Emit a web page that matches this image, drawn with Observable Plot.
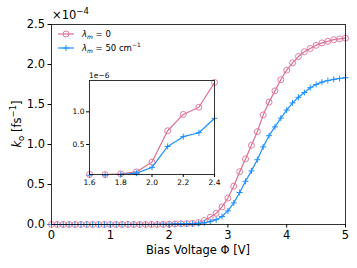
<!DOCTYPE html>
<html>
<head>
<meta charset="utf-8">
<script src="https://cdn.jsdelivr.net/npm/d3@7"></script>
<script src="https://cdn.jsdelivr.net/npm/@observablehq/plot@0.6"></script>
<style>
  html, body { margin: 0; padding: 0; background: white; }
  #wrap { position: relative; width: 357px; height: 268px; }
  #wrap svg { position: absolute; left: 0; top: 0; }
</style>
</head>
<body>
<div id="wrap"></div>
<script>
// Bias voltage (V)
const bias = [0.0,0.1,0.2,0.3,0.4,0.5,0.6,0.7,0.8,0.9,1.0,1.1,1.2,1.3,1.4,1.5,1.6,1.7,1.8,1.9,2.0,2.1,2.2,2.3,2.4,2.5,2.6,2.7,2.8,2.9,3.0,3.1,3.2,3.3,3.4,3.5,3.6,3.7,3.8,3.9,4.0,4.1,4.2,4.3,4.4,4.5,4.6,4.7,4.8,4.9,5.0];
// k0 in units of 1e-6 fs^-1, lambda_m = 0
const k0_lam0 = [0.02,0.02,0.02,0.02,0.02,0.02,0.02,0.02,0.03,0.03,0.03,0.03,0.03,0.03,0.04,0.04,
  0.04,0.04,0.05,0.08,0.23,0.71,0.96,1.07,1.45,
  2.5,5,9,14,22,33,48,66,82,99,116,137,153,167,181,193,202,210,216,220,224,227,229,231,232,233];
// k0 in units of 1e-6 fs^-1, lambda_m = 50 cm^-1
const k0_lam50 = [0.01,0.01,0.01,0.01,0.01,0.01,0.01,0.01,0.02,0.02,0.02,0.02,0.02,0.02,0.03,0.03,
  0.03,0.03,0.04,0.06,0.15,0.47,0.62,0.68,0.90,
  1.3,2.2,3.6,6,10,17,27,40,54,67,81,97,111,122,133,143,152,159,165,171,175,178,180,181.5,182.5,183.5];
const seriesNames = ["lam0", "lam50"];
const colors = {lam0: "#db7093", lam50: "#1e90ff"};
const xTicksMain = [0,1,2,3,4,5];
const yTicksMain = [0,0.5,1.0,1.5,2.0,2.5];
const xTicksInset = [1.6,1.8,2.0,2.2,2.4];
const yTicksInset = [0.5,1.0];
const xLabel = "Bias Voltage Φ [V]";

const rows = [];
bias.forEach((b, i) => {
  rows.push({x: b, v: k0_lam0[i], s: "lam0"});
  rows.push({x: b, v: k0_lam50[i], s: "lam50"});
});
const r0 = rows.filter(d => d.s === "lam0");
const r50 = rows.filter(d => d.s === "lam50");

const plus = {
  draw(ctx, size) {
    const r = Math.sqrt(size / Math.PI);
    ctx.moveTo(-r, 0); ctx.lineTo(r, 0);
    ctx.moveTo(0, -r); ctx.lineTo(0, r);
  }
};

const font = "DejaVu Sans, sans-serif";
const FS = 11.5;

const main = Plot.plot({
  width: 357, height: 268,
  marginLeft: 51, marginRight: 12, marginTop: 24, marginBottom: 44,
  style: {fontFamily: font, fontSize: FS + "px", background: "white", color: "black"},
  x: {domain: [0, 5]},
  y: {domain: [0, 2.5]},
  marks: [
    Plot.axisX({ticks: xTicksMain, tickSize: 3.5, tickPadding: 2.5, tickFormat: d3.format("d"), label: null, fontSize: FS}),
    Plot.axisY({ticks: yTicksMain, tickSize: 3.5, tickPadding: 3, tickFormat: d3.format(".1f"), label: null, fontSize: FS}),
    Plot.line(r0, {x: "x", y: d => d.v / 100, stroke: colors.lam0, strokeWidth: 1.2}),
    Plot.dot(r0, {x: "x", y: d => d.v / 100, stroke: colors.lam0, fill: "none", r: 3, strokeWidth: 0.9}),
    Plot.line(r50, {x: "x", y: d => d.v / 100, stroke: colors.lam50, strokeWidth: 1.2}),
    Plot.dot(r50, {x: "x", y: d => d.v / 100, stroke: colors.lam50, fill: "none", r: 3, symbol: plus, strokeWidth: 1}),
    Plot.frame({stroke: "black", strokeWidth: 0.8})
  ]
});

const inset = Plot.plot({
  width: 357, height: 268,
  marginLeft: 89, marginRight: 143, marginTop: 80, marginBottom: 94,
  style: {fontFamily: font, fontSize: "7.5px", background: "transparent", color: "black"},
  x: {domain: [1.6, 2.4]},
  y: {domain: [0.04, 1.48]},
  marks: [
    Plot.frame({fill: "white", stroke: "none"}),
    Plot.axisX({ticks: xTicksInset, tickSize: 3, tickPadding: 2, tickFormat: d3.format(".1f"), label: null, fontSize: 7.5}),
    Plot.axisY({ticks: yTicksInset, tickSize: 3, tickPadding: 2, tickFormat: d3.format(".1f"), label: null, fontSize: 7.5}),
    Plot.line(r0, {x: "x", y: "v", stroke: colors.lam0, strokeWidth: 1.2, clip: true}),
    Plot.dot(r0.filter(d => d.x >= 1.6 && d.x <= 2.4), {x: "x", y: "v", stroke: colors.lam0, fill: "none", r: 3, strokeWidth: 0.9}),
    Plot.line(r50, {x: "x", y: "v", stroke: colors.lam50, strokeWidth: 1.2, clip: true}),
    Plot.dot(r50.filter(d => d.x >= 1.6 && d.x <= 2.4), {x: "x", y: "v", stroke: colors.lam50, fill: "none", r: 3, symbol: plus, strokeWidth: 1}),
    Plot.frame({stroke: "black", strokeWidth: 0.8})
  ]
});

const wrap = document.getElementById("wrap");
wrap.appendChild(main);
wrap.appendChild(inset);

// Extra text via d3: exponent labels, axis labels, legend
const ms = d3.select(main);
const mt = ms.append("text").attr("x", 52).attr("y", 19).attr("text-anchor", "start")
  .attr("font-size", FS).attr("font-family", font);
mt.append("tspan").text("×10");
mt.append("tspan").attr("dy", -5).attr("font-size", 8.5).text("−4");

ms.append("text").attr("x", 198).attr("y", 254).attr("text-anchor", "middle")
  .attr("font-size", FS).attr("font-family", font).text(xLabel);

const yl = ms.append("text").attr("transform", "translate(21,124) rotate(-90)")
  .attr("text-anchor", "middle").attr("font-size", FS).attr("font-family", font);
yl.append("tspan").attr("font-style", "italic").text("k");
yl.append("tspan").attr("dy", 2.5).attr("font-size", 8.5).text("o");
yl.append("tspan").attr("dy", -2.5).text(" [fs");
yl.append("tspan").attr("dy", -5).attr("font-size", 8.5).text("−1");
yl.append("tspan").attr("dy", 5).text("]");

const is = d3.select(inset);
is.append("text").attr("x", 89).attr("y", 78).attr("text-anchor", "start")
  .attr("font-size", 7.5).attr("font-family", font).text("1e−6");

// legend
const leg = ms.append("g").attr("font-family", font).attr("font-size", 8.5).attr("text-anchor", "start");
const legendItems = [
  {s: "lam0", y: 34, label: [["λ", "i"], ["m", "sub"], [" = 0", ""]]},
  {s: "lam50", y: 48, label: [["λ", "i"], ["m", "sub"], [" = 50 cm", ""], ["−1", "sup"]]}
];
legendItems.forEach(it => {
  const c = colors[it.s];
  leg.append("line").attr("x1", 58).attr("x2", 74).attr("y1", it.y).attr("y2", it.y).attr("stroke", c).attr("stroke-width", 1.2);
  if (it.s === "lam0") {
    leg.append("circle").attr("cx", 66).attr("cy", it.y).attr("r", 3).attr("fill", "none").attr("stroke", c).attr("stroke-width", 0.9);
  } else {
    leg.append("path").attr("d", `M63,${it.y}H69M66,${it.y - 3}V${it.y + 3}`).attr("stroke", c).attr("stroke-width", 1);
  }
  const t = leg.append("text").attr("x", 82).attr("y", it.y + 3);
  let shift = 0;
  it.label.forEach(([str, kind]) => {
    const ts = t.append("tspan").text(str);
    if (kind === "i") ts.attr("font-style", "italic");
    if (kind === "sub") { ts.attr("font-style", "italic").attr("font-size", 6).attr("dy", 2 - shift); shift = 2; }
    else if (kind === "sup") { ts.attr("font-size", 6).attr("dy", -4 - shift); shift = -4; }
    else if (shift !== 0) { ts.attr("dy", -shift); shift = 0; }
  });
});
</script>
</body>
</html>
